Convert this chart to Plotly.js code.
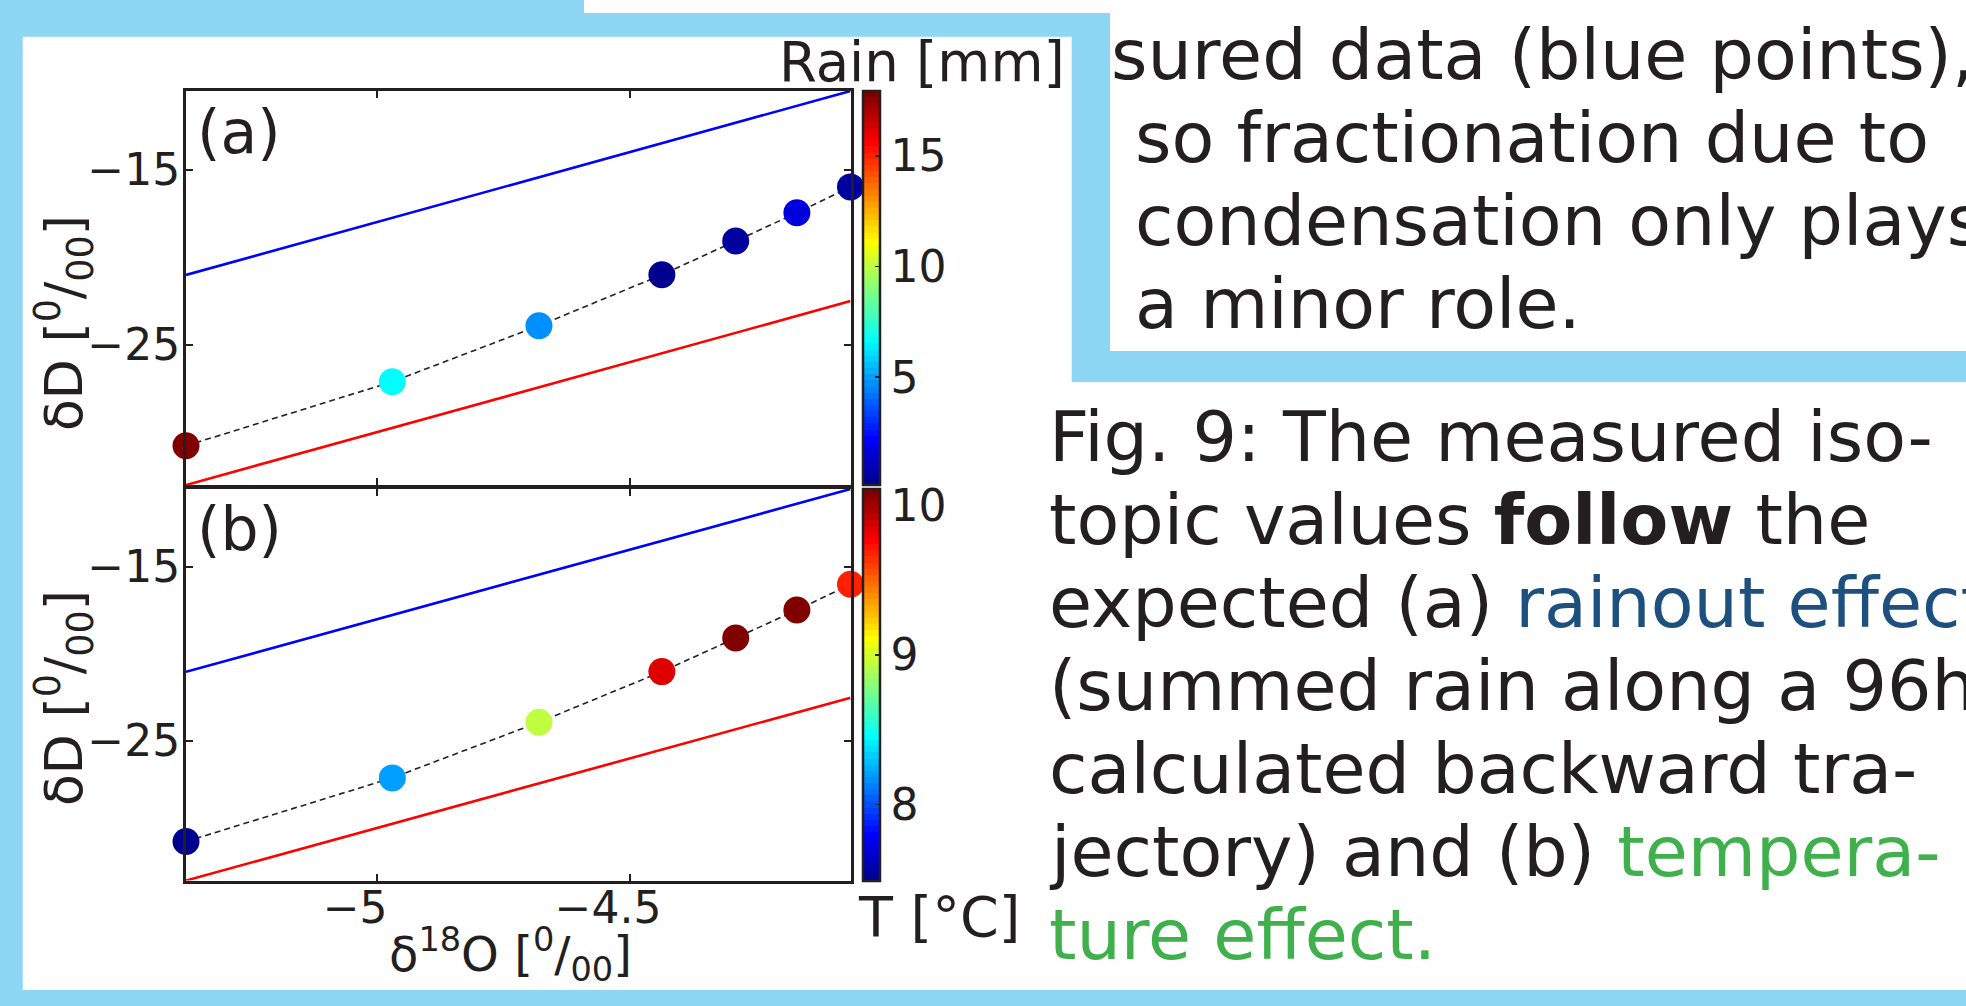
<!DOCTYPE html>
<html>
<head>
<meta charset="utf-8">
<script src="https://cdn.plot.ly/plotly-3.0.1.min.js"></script>
<style>
html,body{margin:0;padding:0;background:#8DD6F4;}
#chart{width:1966px;height:1006px;}
</style>
</head>
<body>
<div id="chart"></div>
<script>
// ---------------- data ----------------
const d18O = [-5.378, -4.970, -4.680, -4.437, -4.291, -4.170, -4.064];
const dD = [-30.78, -27.12, -23.92, -21.01, -19.08, -17.47, -15.99];
const rainMm = [17.94, 6.80, 4.72, 0.12, 0.40, 1.65, 0.45];
const tempC = [7.49, 8.21, 8.96, 9.85, 10.08, 10.11, 9.68];
const lineO = [-5.378, -4.064];
const gmwlD = [-33.02, -22.51];   // red line
const lmwlD = [-21.02, -10.51];   // blue line
const dDTicks = [-25, -15];
const d18OTicks = [-5, -4.5];
const rainTicks = [5, 10, 15];
const tempTicks = [8, 9, 10];
const panelLabels = ['(a)', '(b)'];
const cbTitles = ['Rain [mm]', 'T [°C]'];
const xTitle = 'δ<sup>18</sup>O [<sup>0</sup>/<sub>00</sub>]';
const yTitle = 'δD [<sup>0</sup>/<sub>00</sub>]';
const boxLines = ['sured data (blue points),', 'so fractionation due to', 'condensation only plays', 'a minor role.'];
const captionLines = [
  'Fig. 9: The measured iso-',
  'topic values <b>follow</b> the',
  'expected (a) <span style="color:#1D4F7F">rainout effect</span>',
  '(summed rain along a 96h',
  'calculated backward tra-',
  'jectory) and (b) <span style="color:#3FB04B">tempera-</span>',
  '<span style="color:#3FB04B">ture effect.</span>'
];

// ---------------- styling helpers ----------------
const W = 1966, H = 1006;
const px = x => x / W;
const py = y => 1 - y / H;
const INK = '#231F20';
const BLUEBG = '#8DD6F4';
const FONT = 'DejaVu Sans, Verdana, sans-serif';

function jet64() {
  const n = 16, u = [];
  for (let k = 1; k <= n; k++) u.push(k / n);
  for (let k = 0; k < n - 1; k++) u.push(1);
  for (let k = n; k >= 1; k--) u.push(k / n);
  const ch = idx => (idx >= 1 && idx <= u.length) ? u[idx - 1] : 0;
  const cs = [];
  for (let i = 1; i <= 64; i++) {
    const c = `rgb(${Math.round(ch(i - 24) * 255)},${Math.round(ch(i - 8) * 255)},${Math.round(ch(i + 8) * 255)})`;
    cs.push([(i - 1) / 64, c]);
    cs.push([i / 64, c]);
  }
  return cs;
}
const JET = jet64();

const plotL = 186, plotR = 850.5;
const panels = [
  {top: 91, bot: 485, xa: 'x', ya: 'y', color: rainMm, ticks: rainTicks},
  {top: 489, bot: 880.5, xa: 'x2', ya: 'y2', color: tempC, ticks: tempTicks}
];

const traces = [];
panels.forEach((p, i) => {
  traces.push({x: lineO, y: lmwlD, xaxis: p.xa, yaxis: p.ya, mode: 'lines',
    line: {color: '#0000FF', width: 2.6}, hoverinfo: 'skip', showlegend: false});
  traces.push({x: lineO, y: gmwlD, xaxis: p.xa, yaxis: p.ya, mode: 'lines',
    line: {color: '#FF0000', width: 2.6}, hoverinfo: 'skip', showlegend: false});
  traces.push({x: d18O, y: dD, xaxis: p.xa, yaxis: p.ya, mode: 'lines',
    line: {color: '#222222', width: 1.6, dash: '6px,4px'}, hoverinfo: 'skip', showlegend: false});
  traces.push({x: d18O, y: dD, xaxis: p.xa, yaxis: p.ya, mode: 'markers', cliponaxis: false,
    showlegend: false,
    marker: {size: 27, color: p.color, colorscale: JET, line: {width: 0}, showscale: true,
      colorbar: {
        x: px(863.3), xanchor: 'left', xref: 'paper', xpad: 0,
        y: py(p.top), yanchor: 'top', yref: 'paper', ypad: 0,
        len: p.bot - p.top, lenmode: 'pixels',
        thickness: 17.4, thicknessmode: 'pixels',
        outlinewidth: 2.5, outlinecolor: INK,
        tickvals: p.ticks, ticks: 'inside', ticklen: 6, tickwidth: 1.5, tickcolor: INK,
        tickfont: {family: FONT, size: 44, color: INK},
        title: {text: ''}
      }}});
});

function xaxis(showLabels, anchor) {
  return {
    domain: [px(plotL), px(plotR)], anchor: anchor,
    range: [lineO[0], lineO[1]], showgrid: false, zeroline: false,
    showline: true, linewidth: 3, linecolor: INK, mirror: 'ticks',
    ticks: 'inside', ticklen: 7, tickwidth: 2, tickcolor: INK,
    tickvals: d18OTicks, showticklabels: showLabels,
    tickfont: {family: FONT, size: 44, color: INK},
    ticklabelshift: -22, ticklabelstandoff: -13
  };
}
function yaxis(p, anchor) {
  return {
    domain: [py(p.bot), py(p.top)], anchor: anchor,
    range: [gmwlD[0], lmwlD[1]], showgrid: false, zeroline: false,
    showline: true, linewidth: 3, linecolor: INK, mirror: 'ticks',
    ticks: 'inside', ticklen: 7, tickwidth: 2, tickcolor: INK,
    tickvals: dDTicks, tickfont: {family: FONT, size: 44, color: INK},
    ticklabelstandoff: -6
  };
}

const ann = [];
const txt = (text, x, y, size, opts) => Object.assign({
  text: text, x: px(x), y: py(y), xref: 'paper', yref: 'paper',
  xanchor: 'left', yanchor: 'middle', showarrow: false,
  font: {family: FONT, size: size, color: INK}
}, opts || {});

// caption text
captionLines.forEach((t, k) => ann.push(txt(t, 1047, 460.7 + 83.1 * k - 24.2, 70)));
// upper text box
boxLines.forEach((t, k) => ann.push(txt(t, k === 0 ? 1109 : 1133, 79 + 83.1 * k - 24.2, 70)));
// panel labels
ann.push(txt(panelLabels[0], 195, 131.5, 60));
ann.push(txt(panelLabels[1], 195, 528.7, 60));
// colorbar titles
ann.push(txt(cbTitles[0], 777, 61.5, 54.5));
ann.push(txt(cbTitles[1], 856, 916.5, 55.5));
// axis titles
ann.push(txt(xTitle, 510, 954, 48, {xanchor: 'center'}));
ann.push(txt(yTitle, 64, 323, 52, {xanchor: 'center', textangle: -90}));
ann.push(txt(yTitle, 64, 698, 52, {xanchor: 'center', textangle: -90}));

const rect = (x0, y0, x1, y1) => ({type: 'rect', xref: 'paper', yref: 'paper',
  x0: px(x0), x1: px(x1), y0: py(y1), y1: py(y0), fillcolor: '#FFFFFF',
  line: {width: 0}, layer: 'below'});

const layout = {
  width: W, height: H, autosize: false,
  margin: {l: 0, r: 0, t: 0, b: 0, pad: 0},
  paper_bgcolor: BLUEBG, plot_bgcolor: '#FFFFFF',
  showlegend: false, hovermode: false,
  xaxis: xaxis(false, 'y'), yaxis: yaxis(panels[0], 'x'),
  xaxis2: xaxis(true, 'y2'), yaxis2: yaxis(panels[1], 'x2'),
  shapes: [
    rect(22.7, 36.7, 1071.7, 990),
    rect(1071, 382, 1966, 990),
    rect(1110, 0, 1966, 351),
    rect(584, 0, 1966, 13)
  ],
  annotations: ann
};

Plotly.newPlot('chart', traces, layout, {staticPlot: true, displayModeBar: false});
</script>
</body>
</html>
